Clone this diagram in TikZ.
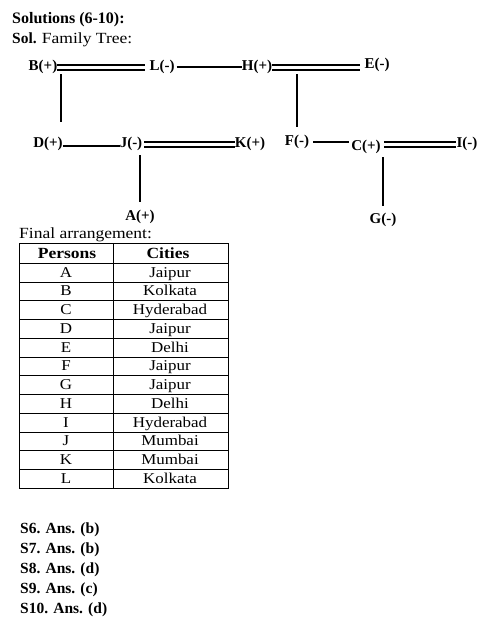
\documentclass[tikz,border=0pt]{standalone}
\usepackage{fontspec}
\setmainfont{Liberation Serif}
\newfontfamily\wideserif[FakeStretch=1.13]{Liberation Serif}

\begin{document}
\begin{tikzpicture}[x=1pt,y=-1pt,
    person/.style={font=\fontsize{15}{17}\selectfont\bfseries, inner sep=0pt, anchor=base},
    couple/.style={double, double distance=3.2pt, line width=1.7pt},
    kin/.style={line width=2pt},
    txt/.style={font=\fontsize{15.5}{18}\selectfont, inner sep=0pt, anchor=base west},
    cell/.style={font=\fontsize{15}{17}\selectfont\wideserif, inner sep=0pt, anchor=base}]
    \useasboundingbox (0,0) rectangle (484,631);

    % headings
    \node[txt] (title) at (12,24) {\fontsize{16}{18}\selectfont\textbf{Solutions (6-10):}};
    \node[txt] (sol) at (12,44) {\textbf{Sol.} {\wideserif Family Tree:}};

    % family tree
    \node[person] (B) at (43,71) {B(+)};
    \node[person] (L) at (162,71) {L(-)};
    \node[person] (H) at (257,71) {H(+)};
    \node[person] (E) at (377,69) {E(-)};
    \node[person] (D) at (48,148) {D(+)};
    \node[person] (J) at (131,148) {J(-)};
    \node[person] (K) at (250,148) {K(+)};
    \node[person] (F) at (297,146) {F(-)};
    \node[person] (C) at (366,150) {C(+)};
    \node[person] (I) at (467,148) {I(-)};
    \node[person] (A) at (140,220) {A(+)};
    \node[person] (G) at (383,223) {G(-)};

    \draw[couple, shorten >=4pt] (B.east) -- (L.west);
    \draw[kin, shorten <=2pt] (L.east) -- (H.west);
    \draw[couple, shorten >=4pt] (H.east) -- (H.east -| E.west);
    \draw[kin] (D.east) ++(0,2) -- ([yshift=-2pt]J.west);
    \draw[couple, shorten <=2pt] (J.east) -- (K.west);
    \draw[kin, shorten <=4pt, shorten >=2pt] (F.east) -- (F.east -| C.west);
    \draw[couple, shorten <=3pt] ([yshift=2pt]C.east) -- ([yshift=2pt]C.east -| I.west);

    \coordinate (bl) at ([xshift=4pt]B.south east);
    \coordinate (he) at (F.north |- H.south);
    \draw[kin, shorten >=15pt] (bl) -- (bl |- D.north);
    \draw[kin, shorten >=8pt] (he) -- (F.north);
    \draw[kin, shorten <=4pt, shorten >=7pt] (A.north |- J.south) -- (A.north);
    \draw[kin, shorten <=4pt, shorten >=6pt] (G.north |- C.south) -- (G.north);

    % table
    \node[txt] (final) at (19,238) {\wideserif Final arrangement:};
    \draw[black] (19,243) rectangle (228,488);
    \draw[black] (113,243) -- (113,488);
    \draw[black] (19,263) -- (228,263);
    \draw[black] (19,281.75) -- (228,281.75);
    \draw[black] (19,300.5) -- (228,300.5);
    \draw[black] (19,319.25) -- (228,319.25);
    \draw[black] (19,338) -- (228,338);
    \draw[black] (19,356.75) -- (228,356.75);
    \draw[black] (19,375.5) -- (228,375.5);
    \draw[black] (19,394.25) -- (228,394.25);
    \draw[black] (19,413) -- (228,413);
    \draw[black] (19,431.75) -- (228,431.75);
    \draw[black] (19,450.5) -- (228,450.5);
    \draw[black] (19,469.25) -- (228,469.25);
    \node[cell] (hp) at (67,258) {\fontsize{15.5}{17}\selectfont\textbf{Persons}};
    \node[cell] (hc) at (168,258) {\fontsize{15.5}{17}\selectfont\textbf{Cities}};
    \node[cell] (pA) at (66,277) {A};
    \node[cell] (cA) at (170,277) {Jaipur};
    \node[cell] (pB) at (66,295.75) {B};
    \node[cell] (cB) at (170,295.75) {Kolkata};
    \node[cell] (pC) at (66,314.5) {C};
    \node[cell] (cC) at (170,314.5) {Hyderabad};
    \node[cell] (pD) at (66,333.25) {D};
    \node[cell] (cD) at (170,333.25) {Jaipur};
    \node[cell] (pE) at (66,352) {E};
    \node[cell] (cE) at (170,352) {Delhi};
    \node[cell] (pF) at (66,370.75) {F};
    \node[cell] (cF) at (170,370.75) {Jaipur};
    \node[cell] (pG) at (66,389.5) {G};
    \node[cell] (cG) at (170,389.5) {Jaipur};
    \node[cell] (pH) at (66,408.25) {H};
    \node[cell] (cH) at (170,408.25) {Delhi};
    \node[cell] (pI) at (66,427) {I};
    \node[cell] (cI) at (170,427) {Hyderabad};
    \node[cell] (pJ) at (66,445.75) {J};
    \node[cell] (cJ) at (170,445.75) {Mumbai};
    \node[cell] (pK) at (66,464.5) {K};
    \node[cell] (cK) at (170,464.5) {Mumbai};
    \node[cell] (pL) at (66,483.25) {L};
    \node[cell] (cL) at (170,483.25) {Kolkata};

    % answers
    \node[txt] (s6) at (20,533) {\textbf{S6. Ans. (b)}};
    \node[txt] (s7) at (20,553) {\textbf{S7. Ans. (b)}};
    \node[txt] (s8) at (20,573) {\textbf{S8. Ans. (d)}};
    \node[txt] (s9) at (20,593) {\textbf{S9. Ans. (c)}};
    \node[txt] (s10) at (20,613) {\textbf{S10. Ans. (d)}};
\end{tikzpicture}
\end{document}
